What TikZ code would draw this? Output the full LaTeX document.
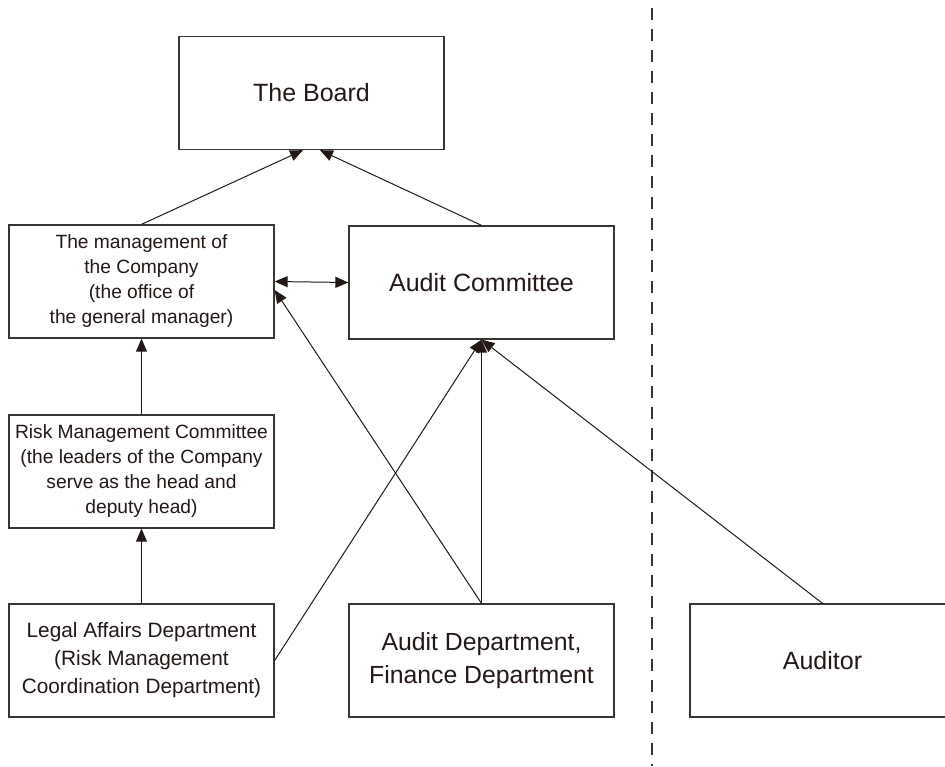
\documentclass[tikz,border=0pt]{standalone}
\usepackage{fontspec}
\setmainfont{Liberation Sans}
\usepackage{xcolor}
\usepackage{tikz}
\usetikzlibrary{arrows.meta,positioning,calc}
\definecolor{orgink}{HTML}{231815}
\definecolor{orgline}{HTML}{3A3533}

\begin{document}
\begin{tikzpicture}[x=0.5pt,y=-0.5pt,
  orgbox/.style={draw=orgline,line width=0.65pt,fill=white,text=orgink,align=center,
    minimum width=132.5pt,minimum height=56.5pt,inner sep=0pt},
  big/.style={font=\fontsize{12.5}{16.5}\selectfont},
  small/.style={font=\fontsize{9.6}{12.5}\selectfont},
  mid/.style={font=\fontsize{10.4}{14}\selectfont},
  fleche/.style={draw=orgink,line width=0.5pt,-{Triangle[length=6.5pt,width=5.5pt]}}]
  \clip (0,0) rectangle (945,766);
  % separation
  \draw[orgline,line width=0.6pt,dash pattern=on 6pt off 4.5pt] (652,8) -- (652,766);
  % boxes
  \node[orgbox,big] (board) at (311.5,93) {The Board};
  \node[orgbox,small] (mgmt) at (141.5,281.5) {The management of\\the Company\\(the office of\\the general manager)};
  \node[orgbox,big] (audcom) at (481.5,282.5) {Audit Committee};
  \node[orgbox,small] (risk) at (141.5,471.5) {Risk Management Committee\\(the leaders of the Company\\serve as the head and\\deputy head)};
  \node[orgbox,mid] (legal) at (141.5,660.5) {Legal Affairs Department\\(Risk Management\\Coordination Department)};
  \node[orgbox,font=\fontsize{12.4}{16.5}\selectfont] (auddept) at (481.5,660.5) {Audit Department,\\Finance Department};
  \node[orgbox,big] (auditor) at (822.5,660.5) {Auditor};
  % reporting lines
  \draw[fleche] (mgmt.north) -- ([xshift=-4.25pt]board.south);
  \draw[fleche] (audcom.north) -- ([xshift=4.25pt]board.south);
  \draw[fleche,{Triangle[length=6.5pt,width=5.5pt]}-{Triangle[length=6.5pt,width=5.5pt]}] (mgmt.east) -- (audcom.west);
  \draw[fleche] (risk.north) -- (mgmt.south);
  \draw[fleche] (legal.north) -- (risk.south);
  \draw[fleche] (auddept.north) -- ([yshift=-4.25pt]mgmt.east);
  \draw[fleche] (legal.east) -- (audcom.south);
  \draw[fleche] (auddept.north) -- (audcom.south);
  \draw[fleche] (auditor.north) -- (audcom.south);
\end{tikzpicture}
\end{document}
